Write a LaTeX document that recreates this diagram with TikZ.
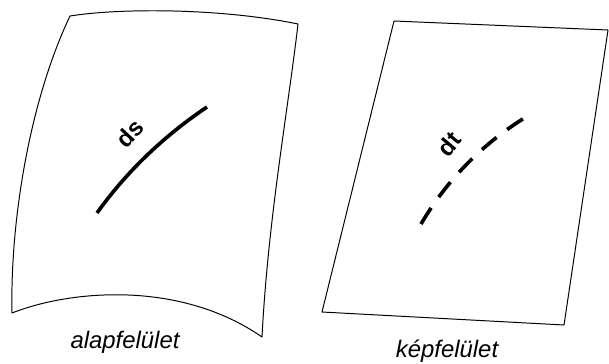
\documentclass[tikz,border=0pt]{standalone}
\usepackage{fontspec}
\setmainfont{Liberation Sans}

\begin{document}
\begin{tikzpicture}[
    x=0.025cm, y=-0.025cm,
    sheet/.style={draw, line width=0.7pt, line join=round},
    elem/.style={line width=2.6pt},
    dashelem/.style={elem, dash pattern=on 13.5pt off 9.4pt},
    lbl/.style={font=\fontsize{17}{20}\selectfont\itshape},
    dlbl/.style={font=\fontsize{17}{20}\selectfont\bfseries, inner sep=0pt},
  ]
  \useasboundingbox (0,0) rectangle (609,363);

  % --- Base surface (curved) ---
  \draw[sheet] (70,16) .. controls (120,8) and (220,8) .. (298,24)
    .. controls (288,110) and (268,220) .. (262,337)
    .. controls (180,280) and (70,290) .. (12,313)
    .. controls (10,220) and (30,100) .. (70,16) -- cycle;

  % --- Image surface (plane) ---
  \draw[sheet] (394,21) -- (608,30) -- (564,325) -- (322,312) -- cycle;

  % --- Line elements ---
  \coordinate (s0) at (97,213);
  \coordinate (s1) at (207,107);
  \draw[elem] (s0) .. controls (127,171) and (164,136) .. (s1);
  \node[dlbl, rotate=47] (ds) at (130,133) {ds};

  \coordinate (t0) at (421,224);
  \coordinate (t1) at (526,117);
  \draw[dashelem] (t0) .. controls (447,180) and (482,144) .. (t1);
  \node[dlbl, rotate=50] (dt) at (449,144) {dt};

  % --- Captions ---
  \node[lbl, anchor=base] (alap) at (125,348) {alapfelület};
  \node[lbl, anchor=base] (kep) at (447,357) {képfelület};

\end{tikzpicture}
\end{document}
